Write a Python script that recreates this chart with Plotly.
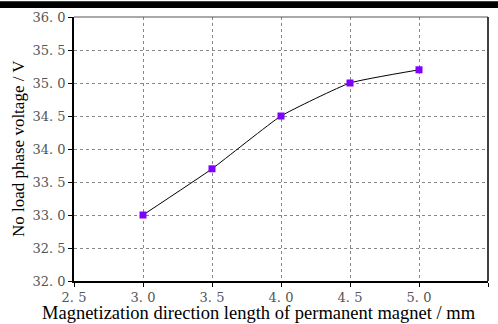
import plotly.graph_objects as go

# magnet length (mm) vs no-load phase voltage (V)
length_mm = [3.0, 3.5, 4.0, 4.5, 5.0]
voltage_v = [33.0, 33.7, 34.5, 35.0, 35.2]

x_ticks = [2.5, 3.0, 3.5, 4.0, 4.5, 5.0, 5.5]
x_tick_text = ["2. 5", "3. 0", "3. 5", "4. 0", "4. 5", "5. 0", "5. 5"]
y_ticks = [32.0, 32.5, 33.0, 33.5, 34.0, 34.5, 35.0, 35.5, 36.0]
y_tick_text = ["32. 0", "32. 5", "33. 0", "33. 5", "34. 0", "34. 5", "35. 0", "35. 5", "36. 0"]

serif = "Liberation Serif"
tick_serif = "DejaVu Serif"

fig = go.Figure()
fig.add_trace(go.Scatter(
    x=length_mm, y=voltage_v,
    mode="lines+markers",
    line=dict(color="black", width=1, shape="spline", smoothing=0.4),
    marker=dict(symbol="square", size=7, color="#7f00ff",
                line=dict(width=0)),
    showlegend=False,
))

axis_common = dict(
    showgrid=True, gridcolor="#888888", griddash="dot", gridwidth=1,
    showline=True, linecolor="black", linewidth=1.5, mirror=False,
    ticks="outside", ticklen=4, tickcolor="black", tickwidth=1,
    zeroline=False,
    tickfont=dict(family=tick_serif, size=13, color="#555555"),
)

fig.update_xaxes(range=[2.5, 5.5], tickvals=x_ticks, ticktext=x_tick_text,
                 ticklabelstandoff=0, **axis_common)
fig.update_yaxes(range=[32.0, 36.0], tickvals=y_ticks, ticktext=y_tick_text,
                 **axis_common)

fig.update_layout(
    width=498, height=324,
    margin=dict(l=74, r=10, t=12, b=43),
    paper_bgcolor="white", plot_bgcolor="white",
    font=dict(family=serif),
    shapes=[
        # frame: top and right edges
        dict(type="line", xref="paper", yref="paper", x0=0, x1=1, y0=1, y1=1,
             line=dict(color="#555555", width=1)),
        dict(type="line", xref="paper", yref="paper", x0=1, x1=1, y0=0, y1=1,
             line=dict(color="black", width=1.5)),
        # border strip along the top edge of the page
        dict(type="rect", xref="paper", yref="paper", x0=-0.2, x1=1.03,
             y0=1.034, y1=1.06, fillcolor="black", line=dict(width=0)),
    ],
    annotations=[
        dict(text="Magnetization direction length of permanent magnet / mm",
             xref="paper", yref="paper", x=0.448, y=-0.12,
             xanchor="center", yanchor="middle", showarrow=False,
             font=dict(family=serif, size=18.5, color="black")),
        dict(text="No load phase voltage / V",
             xref="paper", yref="paper", x=-0.135, y=0.5,
             xanchor="center", yanchor="middle", showarrow=False, textangle=-90,
             font=dict(family=serif, size=17, color="black")),
    ],
)

fig.write_html("out.html")
